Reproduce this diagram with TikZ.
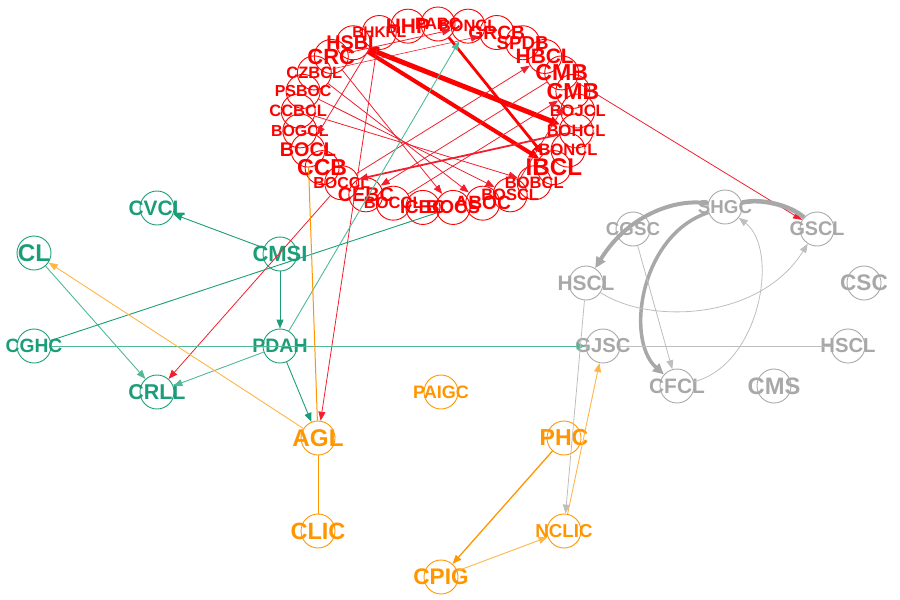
\documentclass[tikz,border=0pt]{standalone}
\usepackage{fontspec}
\setmainfont{Liberation Sans}
\usetikzlibrary{arrows.meta}
\definecolor{rd}{RGB}{255,0,0}
\definecolor{rde}{RGB}{242,30,45}
\definecolor{tl}{RGB}{27,158,119}
\definecolor{tle}{RGB}{80,186,152}
\definecolor{og}{RGB}{255,150,0}
\definecolor{oge}{RGB}{255,182,70}
\definecolor{gy}{RGB}{168,168,168}
\definecolor{gye}{RGB}{190,190,190}
\newcommand\fsz[1]{\fontsize{\fpeval{1.1*#1}}{\fpeval{1.1*#1}}\selectfont\bfseries}
\newcommand\gnode[6]{\node[nd=#6, label={[text=#6,inner sep=0pt]center:{\fsz{#5}#4}}] (#1) at (#2,#3) {};}
\newcommand\rnode[4]{\node[nd=rd, label={[text=rd,inner sep=0pt]center:{\fsz{#4}#3}}] (#1) at ({438+140*cos(-90-12.4138*#2)},{116+92*sin(-90-12.4138*#2)}) {};}
\tikzset{
  nd/.style={circle, draw=#1, minimum size=34pt, inner sep=0pt, line width=0.9pt},
  tip/.style={-{Triangle[length=9pt,width=7pt]}},
  bigtip/.style={-{Triangle[length=10pt,width=9pt]}},
  re/.style={draw=rde, line width=0.8pt, tip},
  rthick/.style={draw=rd, line width=#1, bigtip},
  te/.style={draw=tl, line width=0.9pt, tip},
  tle/.style={draw=tle, line width=0.9pt, tip},
  oe/.style={draw=og, line width=1pt, tip},
  ole/.style={draw=oge, line width=0.9pt, tip},
  ge/.style={draw=gye, line width=0.8pt, tip},
  gthick/.style={draw=gy, line width=#1, -{Triangle[length=11pt,width=10pt]}},
}
\begin{document}
\begin{tikzpicture}[x=1pt,y=-1pt]
\useasboundingbox (0,0) rectangle (900,600);
% red cluster
\rnode{pabc}{0}{PABC}{15}
\rnode{hhp}{1}{HHP}{19}
\rnode{bhkrl}{2}{BHKRL}{14}
\rnode{hsbl}{3}{HSBL}{18}
\rnode{crc}{4}{CRC}{20}
\rnode{czbcl}{5}{CZBCL}{15}
\rnode{psboc}{6}{PSBOC}{14.5}
\rnode{ccbcl}{7}{CCBCL}{15}
\rnode{bogcl}{8}{BOGCL}{14.5}
\rnode{bocl}{9}{BOCL}{18}
\rnode{ccb}{10}{CCB}{21}
\rnode{boccla}{11}{BOCCL}{14.5}
\rnode{cebc}{12}{CEBC}{18}
\rnode{bocclb}{13}{BOCCL}{15}
\rnode{icbc}{14}{ICBC}{17}
\rnode{bocs}{15}{BOCS}{17}
\rnode{aboc}{16}{ABOC}{17.5}
\rnode{boscl}{17}{BOSCL}{15}
\rnode{bobcl}{18}{BOBCL}{15}
\rnode{ibcl}{19}{IBCL}{22}
\rnode{bonclr}{20}{BONCL}{15}
\rnode{bohcl}{21}{BOHCL}{15}
\rnode{bojcl}{22}{BOJCL}{15}
\rnode{cmbb}{23}{CMB}{21}
\rnode{cmba}{24}{CMB}{21}
\rnode{hbcl}{25}{HBCL}{19}
\rnode{spdb}{26}{SPDB}{17}
\rnode{grcb}{27}{GRCB}{17.5}
\rnode{bonclt}{28}{BONCL}{15}
% green cluster
\gnode{cvcl}{157}{208}{CVCL}{19}{tl}
\gnode{cl}{34}{253}{CL}{22}{tl}
\gnode{cmsi}{280}{254}{CMSI}{20}{tl}
\gnode{cghc}{34}{346}{CGHC}{17.5}{tl}
\gnode{pdah}{280}{346}{PDAH}{17.7}{tl}
\gnode{crll}{157}{392}{CRLL}{19.5}{tl}
% gray cluster
\gnode{shgc}{725}{207}{SHGC}{17}{gy}
\gnode{cgsc}{633}{229}{CGSC}{17}{gy}
\gnode{gscl}{817}{229}{GSCL}{18}{gy}
\gnode{hscl}{586}{283}{HSCL}{19}{gy}
\gnode{csc}{864}{283}{CSC}{20.5}{gy}
\gnode{gjsc}{603}{346}{GJSC}{18.4}{gy}
\gnode{hsclb}{848}{346}{HSCL}{18.4}{gy}
\gnode{cfcl}{677}{386}{CFCL}{19}{gy}
\gnode{cms}{774}{386}{CMS}{21.6}{gy}
% orange cluster
\gnode{paigc}{441}{392}{PAIGC}{16.4}{og}
\gnode{agl}{318}{438}{AGL}{22}{og}
\gnode{phc}{564}{438}{PHC}{21}{og}
\gnode{clic}{318}{531}{CLIC}{21.4}{og}
\gnode{nclic}{564}{531}{NCLIC}{17}{og}
\gnode{cpig}{441}{577}{CPIG}{20.5}{og}
% red edges
\draw[rthick=5pt] (hsbl) -- (bohcl);
\draw[rthick=4pt] (hsbl) -- (ibcl);
\draw[rthick=2.8pt] (pabc) -- (ibcl);
\draw[re, line width=1.8pt] (bohcl) -- (boccla);
\draw[re] (cmba) -- (cebc);
\draw[re] (boccla) -- (hbcl);
\draw[re] (bocclb) -- (cmbb);
\draw[re] (boscl) -- (cmbb);
\draw[re] (crc) -- (bocs);
\draw[re] (czbcl) -- (aboc);
\draw[re] (psboc) -- (boscl);
\draw[re] (ccbcl) -- (bobcl);
\draw[re] (bhkrl) -- (bocl);
\draw[re] (bhkrl) -- (agl);
\draw[re] (boccla) -- (crll);
\draw[re] (cmba) -- (gscl);
\draw[re] (crc) -- (bonclt);
\draw[re, line width=0.6pt] (czbcl) -- (grcb);
% teal edges
\draw[te] (cmsi) -- (cvcl);
\draw[te] (cmsi) -- (pdah);
\draw[tle] (cl) -- (crll);
\draw[tle] (pdah) -- (crll);
\draw[te] (pdah) -- (agl);
\draw[tle] (cghc) -- (gjsc);
\draw[draw=tl, line width=0.9pt] (cghc) -- (bocs);
\draw[tle] (pdah) -- (bonclt);
% orange edges
\draw[ole] (agl) -- (cl);
\draw[draw=og, line width=1pt] (agl) -- (clic);
\draw[draw=og, line width=1pt] (agl) -- (bocl);
\draw[oe, line width=1.3pt] (phc) -- (cpig);
\draw[ole] (cpig) -- (nclic);
\draw[ole] (nclic) -- (gjsc);
% gray edges
\draw[gthick=4pt] (shgc) .. controls (680,198) and (630,212) .. (hscl);
\draw[draw=gy, line width=4.5pt] (shgc) .. controls (760,198) and (790,205) .. (gscl);
\draw[gthick=3.5pt] (shgc) .. controls (640,235) and (625,340) .. (cfcl);
\draw[ge] (cgsc) -- (cfcl);
\draw[ge] (cfcl) .. controls (760,365) and (780,250) .. (shgc);
\draw[ge] (hscl) .. controls (650,325) and (760,320) .. (gscl);
\draw[draw=gye, line width=0.8pt] (gjsc) -- (hsclb);
\draw[ge] (hscl) -- (nclic);
\end{tikzpicture}
\end{document}
